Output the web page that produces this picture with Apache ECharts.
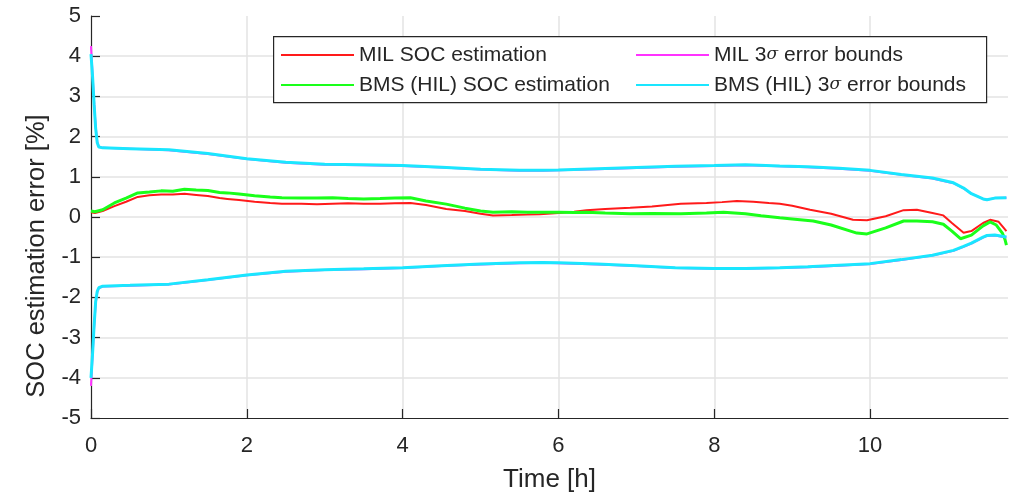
<!DOCTYPE html>
<html>
<head>
<meta charset="utf-8">
<title>SOC estimation error</title>
<script src="https://cdn.jsdelivr.net/npm/echarts@6/dist/echarts.min.js"></script>
<style>
  html, body { margin: 0; padding: 0; background: #fff; }
  #chart { width: 1016px; height: 493px; }
</style>
</head>
<body>
<div id="chart"></div>
<script>
// SOC estimation error of the MIL model and the BMS (HIL) over one drive cycle
const socTime = [0, 0.05, 0.15, 0.3, 0.45, 0.6, 0.75, 0.9, 1.05, 1.2, 1.35, 1.5, 1.65, 1.75, 1.9, 2.1, 2.3, 2.45,
  2.7, 2.9, 3.1, 3.3, 3.5, 3.71, 3.9, 4.1, 4.3, 4.56, 4.8, 5.0, 5.16, 5.4, 5.6, 5.76, 6.0, 6.2, 6.36, 6.6, 6.92,
  7.2, 7.57, 7.9, 8.1, 8.29, 8.5, 8.7, 8.84, 9.0, 9.23, 9.5, 9.78, 9.96, 10.2, 10.43, 10.6, 10.8, 10.94, 11.05,
  11.2, 11.3, 11.45, 11.54, 11.65, 11.75];
const milSoc = [0.12, 0.10, 0.15, 0.27, 0.38, 0.50, 0.54, 0.56, 0.56, 0.58, 0.55, 0.52, 0.47, 0.45, 0.42, 0.38, 0.35, 0.33,
  0.33, 0.32, 0.33, 0.34, 0.33, 0.33, 0.34, 0.35, 0.30, 0.20, 0.15, 0.08, 0.04, 0.05, 0.06, 0.07, 0.10, 0.13, 0.17, 0.20, 0.23,
  0.26, 0.33, 0.35, 0.37, 0.40, 0.38, 0.35, 0.33, 0.28, 0.18, 0.08, -0.07, -0.08, 0.02, 0.17, 0.18, 0.10, 0.04, -0.15,
  -0.39, -0.35, -0.15, -0.07, -0.12, -0.35];

const bmsTime = [0, 0.05, 0.15, 0.3, 0.45, 0.6, 0.75, 0.9, 1.05, 1.2, 1.35, 1.5, 1.65, 1.75, 1.9, 2.1, 2.3, 2.45,
  2.7, 2.9, 3.1, 3.3, 3.5, 3.71, 3.9, 4.1, 4.3, 4.56, 4.8, 5.0, 5.16, 5.4, 5.6, 5.76, 6.0, 6.2, 6.36, 6.6, 6.92,
  7.2, 7.57, 7.9, 8.12, 8.4, 8.6, 8.84, 9.0, 9.27, 9.5, 9.83, 9.96, 10.2, 10.43, 10.6, 10.8, 10.94, 11.05, 11.16,
  11.3, 11.45, 11.54, 11.62, 11.7, 11.73, 11.75];
const bmsSoc = [0.15, 0.13, 0.18, 0.35, 0.47, 0.60, 0.62, 0.65, 0.64, 0.69, 0.67, 0.66, 0.61, 0.60, 0.57, 0.53, 0.50, 0.48,
  0.47, 0.47, 0.48, 0.46, 0.45, 0.46, 0.47, 0.48, 0.40, 0.32, 0.22, 0.15, 0.12, 0.13, 0.12, 0.12, 0.12, 0.11, 0.12, 0.10, 0.08,
  0.09, 0.08, 0.10, 0.12, 0.08, 0.03, -0.02, -0.05, -0.10, -0.20, -0.40, -0.42, -0.27, -0.10, -0.10, -0.12, -0.18, -0.35, -0.54,
  -0.45, -0.22, -0.12, -0.20, -0.41, -0.55, -0.70];

// 3-sigma error bounds
const boundTime = [0, 0.02, 0.04, 0.06, 0.08, 0.1, 0.15, 0.5, 1.0, 1.5, 2.0, 2.5, 3.0, 3.5, 4.0, 4.5, 5.0, 5.5, 5.8,
  6.0, 6.5, 7.0, 7.5, 8.0, 8.4, 8.84, 9.2, 9.6, 10.0, 10.4, 10.8, 11.07, 11.2, 11.3, 11.45, 11.5, 11.6, 11.75];
const milUpper = [4.25, 3.55, 2.85, 2.25, 1.88, 1.75, 1.72, 1.70, 1.66, 1.57, 1.44, 1.35, 1.30, 1.29, 1.27, 1.23, 1.18, 1.15, 1.15,
  1.16, 1.19, 1.22, 1.25, 1.27, 1.29, 1.26, 1.24, 1.20, 1.15, 1.05, 0.96, 0.84, 0.71, 0.58, 0.45, 0.43, 0.47, 0.48];
const milLower = [-4.2, -3.45, -2.75, -2.15, -1.88, -1.77, -1.73, -1.71, -1.68, -1.57, -1.45, -1.36, -1.32, -1.30, -1.27, -1.22, -1.18, -1.15, -1.14,
  -1.15, -1.18, -1.22, -1.27, -1.29, -1.29, -1.27, -1.25, -1.21, -1.17, -1.07, -0.96, -0.84, -0.74, -0.66, -0.51, -0.47, -0.46, -0.51];
const bmsUpper = [4.05, 3.5, 2.8, 2.2, 1.85, 1.74, 1.72, 1.70, 1.67, 1.58, 1.45, 1.36, 1.31, 1.30, 1.28, 1.24, 1.19, 1.16, 1.16,
  1.17, 1.20, 1.23, 1.26, 1.28, 1.30, 1.27, 1.25, 1.21, 1.16, 1.06, 0.97, 0.85, 0.72, 0.58, 0.45, 0.43, 0.47, 0.48];
const bmsLower = [-4.0, -3.4, -2.7, -2.1, -1.85, -1.76, -1.72, -1.70, -1.67, -1.56, -1.44, -1.35, -1.31, -1.29, -1.26, -1.21, -1.17, -1.14, -1.13,
  -1.14, -1.17, -1.21, -1.26, -1.28, -1.28, -1.26, -1.24, -1.20, -1.16, -1.06, -0.95, -0.83, -0.73, -0.65, -0.50, -0.46, -0.45, -0.50];

const seriesNames = ['MIL SOC estimation', 'BMS (HIL) SOC estimation', 'MIL 3σ error bounds', 'BMS (HIL) 3σ error bounds'];
const xTitle = 'Time [h]';
const yTitle = 'SOC estimation error [%]';

const FONT = '"Liberation Sans", Arial, Helvetica, sans-serif';
const INK = '#262626';

function pairs(t, v) { return t.map((x, i) => [x, v[i]]); }

function lineSeries(name, t, v, color, width) {
  return {
    name: name, type: 'line', data: pairs(t, v), symbol: 'none', showSymbol: false,
    lineStyle: { color: color, width: width }, itemStyle: { color: color },
    animation: false, silent: true
  };
}

function legendLabel(name) {
  // typeset the sigma in italics
  const parts = name.split('σ');
  if (parts.length < 2) return '{n|' + name + '}';
  return '{n|' + parts[0] + '}{s|σ}{n|' + parts[1] + '}';
}

const legendText = {
  color: INK, fontFamily: FONT, fontSize: 21, lineHeight: 22,
  rich: {
    n: { color: INK, fontFamily: FONT, fontSize: 21 },
    s: { color: INK, fontFamily: '"DejaVu Serif", "Liberation Serif", serif', fontStyle: 'italic', fontSize: 17 }
  }
};

function legendBlock(names, left) {
  return {
    data: names, orient: 'vertical', left: left, top: 39, z: 4,
    itemWidth: 73, itemHeight: 14, itemGap: 8, textStyle: legendText,
    itemStyle: { color: 'rgba(0,0,0,0)', borderWidth: 0 },
    formatter: legendLabel, selectedMode: false
  };
}

const chart = echarts.init(document.getElementById('chart'), null, { renderer: 'canvas' });
chart.setOption({
  backgroundColor: '#ffffff',
  animation: false,
  grid: { left: 91, right: 8, top: 16, bottom: 75, containLabel: false, outerBoundsMode: 'none' },
  xAxis: {
    type: 'value', min: 0, max: 11.77, interval: 2,
    name: xTitle, nameLocation: 'middle', nameGap: 49,
    nameTextStyle: { color: INK, fontFamily: FONT, fontSize: 26 },
    axisLine: { show: true, onZero: false, lineStyle: { color: INK, width: 1.2 } },
    axisTick: { show: true, inside: true, length: 9, lineStyle: { color: INK, width: 1.2 } },
    axisLabel: { color: INK, fontFamily: FONT, fontSize: 22, margin: 17, showMaxLabel: false },
    splitLine: { show: true, showMinLine: false, showMaxLine: false, lineStyle: { color: '#e3e3e3', width: 1.5 } }
  },
  yAxis: {
    type: 'value', min: -5, max: 5, interval: 1,
    axisLine: { show: true, onZero: false, lineStyle: { color: INK, width: 1.2 } },
    axisTick: { show: true, inside: true, length: 9, lineStyle: { color: INK, width: 1.2 } },
    axisLabel: { color: INK, fontFamily: FONT, fontSize: 22, margin: 10 },
    splitLine: { show: true, showMinLine: false, showMaxLine: false, lineStyle: { color: '#e3e3e3', width: 1.5 } }
  },
  graphic: [{
    type: 'rect', left: 273, top: 36, z: 3,
    shape: { width: 713, height: 66 },
    style: { fill: '#ffffff', stroke: INK, lineWidth: 1.2 }
  }, {
    type: 'text', x: 37, y: 256, rotation: Math.PI / 2, z: 3,
    style: {
      text: yTitle, fill: INK, font: '25.5px ' + FONT,
      textAlign: 'center', textVerticalAlign: 'middle'
    }
  }],
  legend: [legendBlock(seriesNames.slice(0, 2), 275), legendBlock(seriesNames.slice(2), 630)],
  series: [
    lineSeries(seriesNames[0], socTime, milSoc, '#ff1a1a', 2),
    lineSeries(seriesNames[1], bmsTime, bmsSoc, '#1aff1a', 3),
    lineSeries(seriesNames[2], boundTime, milUpper, '#ff33ff', 2),
    lineSeries(seriesNames[2], boundTime, milLower, '#ff33ff', 2),
    lineSeries(seriesNames[3], boundTime, bmsUpper, '#1ae6ff', 3),
    lineSeries(seriesNames[3], boundTime, bmsLower, '#1ae6ff', 3)
  ]
});
</script>
</body>
</html>
